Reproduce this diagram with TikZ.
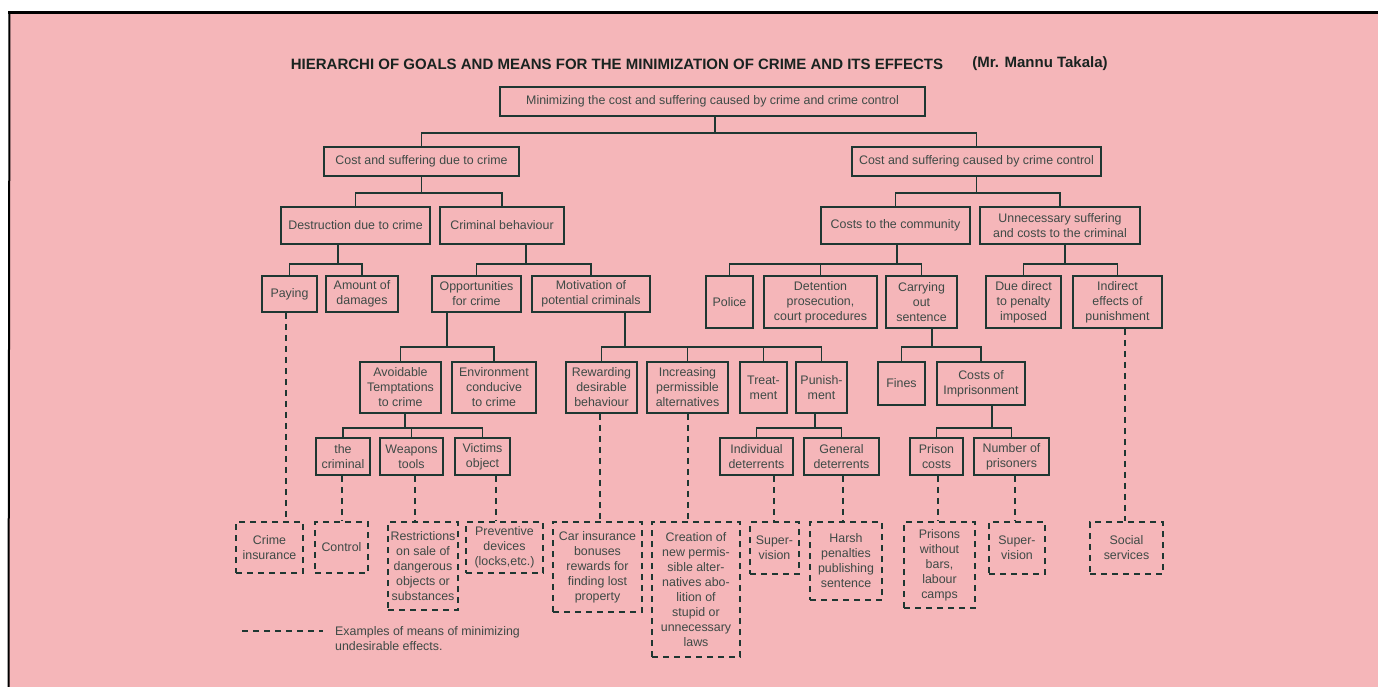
\documentclass[tikz,border=0pt]{standalone}
\usepackage{fontspec}
\setmainfont{Liberation Sans}
\usetikzlibrary{calc}
\definecolor{paper}{RGB}{245,182,185}
\definecolor{ink}{RGB}{30,55,50}
\definecolor{txt}{RGB}{62,74,70}
\definecolor{ttl}{RGB}{25,35,32}
\newcommand\mybox[7]{\node[#1, minimum width={(#5-#3)*1pt}, minimum height={(#6-#4)*1pt}] (#2) at ({(#3+#5)/2},{(#4+#6)/2}) {#7};}
\begin{document}
\begin{tikzpicture}[x=1pt,y=-1pt,
  box/.style={draw=ink, line width=1.7pt, inner sep=0pt, align=center, text=txt, font=\fontsize{12.4}{15}\selectfont},
  dbox/.style={box, dash pattern=on 6pt off 5pt},
  link/.style={draw=ink, line width=1.7pt},
  dlink/.style={link, dash pattern=on 6pt off 5pt},
  titlestyle/.style={inner sep=0pt, text=ttl, font=\fontsize{15}{17}\selectfont\bfseries},
  legendtext/.style={inner sep=0pt, align=left, text=txt, font=\fontsize{12.4}{15}\selectfont}
  ]
\useasboundingbox (0,0) rectangle (1378,687);
\fill[white] (0,0) rectangle (1378,687);
\fill[paper] (9,12) rectangle (1378,687);
\draw[black, line width=3pt] (8,12.5) -- (1378,12.5);
\draw[black, line width=2pt] (9.5,12) -- (8.5,687);

% title
\node[titlestyle] (title) at (617,64) {HIERARCHI OF GOALS AND MEANS FOR THE MINIMIZATION OF CRIME AND ITS EFFECTS};
\node[titlestyle] (author) at (1040,64) {(Mr. Mannu Takala)};

% solid boxes
\mybox{box}{root}{500}{87}{925}{116}{Minimizing the cost and suffering caused by crime and crime control}
\mybox{box}{A}{324}{147}{519}{176}{Cost and suffering due to crime}
\mybox{box}{B}{852}{147}{1101}{176}{Cost and suffering caused by crime control}
\mybox{box}{destr}{281}{207}{430}{244}{Destruction due to crime}
\mybox{box}{crimb}{440}{207}{564}{244}{Criminal behaviour}
\mybox{box}{costsc}{821}{207}{970}{244}{Costs to the community}
\mybox{box}{unnec}{980}{207}{1140}{244}{Unnecessary suffering\\and costs to the criminal}
\mybox{box}{paying}{262}{276}{317}{312}{Paying}
\mybox{box}{amount}{326}{276}{398}{312}{Amount of\\damages}
\mybox{box}{opp}{432}{276}{521}{312}{Opportunities\\for crime}
\mybox{box}{motiv}{532}{276}{650}{312}{Motivation of\\potential criminals}
\mybox{box}{police}{706}{276}{753}{328}{Police}
\mybox{box}{deten}{764}{276}{877}{328}{Detention\\prosecution,\\court procedures}
\mybox{box}{carry}{886}{276}{957}{328}{Carrying\\out\\sentence}
\mybox{box}{due}{986}{276}{1061}{328}{Due direct\\to penalty\\imposed}
\mybox{box}{indir}{1073}{276}{1162}{328}{Indirect\\effects of\\punishment}
\mybox{box}{avoid}{360}{362}{441}{413}{Avoidable\\Temptations\\to crime}
\mybox{box}{env}{452}{362}{536}{413}{Environment\\conducive\\to crime}
\mybox{box}{reward}{566}{362}{637}{413}{Rewarding\\desirable\\behaviour}
\mybox{box}{incr}{647}{362}{728}{413}{Increasing\\permissible\\alternatives}
\mybox{box}{treat}{740}{362}{787}{413}{Treat-\\ment}
\mybox{box}{punish}{796}{362}{847}{413}{Punish-\\ment}
\mybox{box}{fines}{878}{362}{925}{405}{Fines}
\mybox{box}{cimp}{937}{362}{1025}{405}{Costs of\\Imprisonment}
\mybox{box}{crim}{316}{438}{370}{475}{the\\criminal}
\mybox{box}{weap}{380}{438}{443}{475}{Weapons\\tools}
\mybox{box}{vict}{455}{438}{510}{475}{Victims\\object}
\mybox{box}{indiv}{720}{438}{793}{475}{Individual\\deterrents}
\mybox{box}{gener}{804}{438}{879}{475}{General\\deterrents}
\mybox{box}{pcost}{910}{438}{963}{475}{Prison\\costs}
\mybox{box}{npris}{974}{438}{1049}{475}{Number of\\prisoners}

% dashed boxes
\mybox{dbox}{cins}{236}{522}{303}{573}{Crime\\insurance}
\mybox{dbox}{ctrl}{315}{522}{368}{573}{Control}
\mybox{dbox}{restr}{388}{522}{458}{610}{Restrictions\\on sale of\\dangerous\\objects or\\substances}
\mybox{dbox}{prev}{466}{522}{543}{573}{Preventive\\devices\\(locks,etc.)}
\mybox{dbox}{carins}{553}{522}{642}{612}{Car insurance\\bonuses\\rewards for\\finding lost\\property}
\mybox{dbox}{creat}{652}{522}{740}{657}{Creation of\\new permis-\\sible alter-\\natives abo-\\lition of\\stupid or\\unnecessary\\laws}
\mybox{dbox}{supa}{750}{522}{799}{574}{Super-\\vision}
\mybox{dbox}{harsh}{810}{522}{882}{600}{Harsh\\penalties\\publishing\\sentence}
\mybox{dbox}{pwo}{904}{522}{975}{608}{Prisons\\without\\bars,\\labour\\camps}
\mybox{dbox}{supb}{989}{522}{1045}{574}{Super-\\vision}
\mybox{dbox}{social}{1090}{522}{1163}{574}{Social\\services}

% tree connectors
\foreach \c in {A,B} \draw[link] ([xshift=2.5pt]root.south) -- ++(0,16) -| (\c.north);
\foreach \c in {destr,crimb} \draw[link] (A.south) -- ++(0,16) -| (\c.north);
\foreach \c in {costsc,unnec} \draw[link] (B.south) -- ++(0,16) -| (\c.north);
\foreach \c in {paying,amount} \draw[link] ([xshift=-17.5pt]destr.south) -- ++(0,19) -| (\c.north);
\foreach \c in {opp,motiv} \draw[link] ([xshift=24pt]crimb.south) -- ++(0,19) -| (\c.north);
\foreach \c in {police,deten,carry} \draw[link] ([xshift=1.5pt]costsc.south) -- ++(0,19) -| (\c.north);
\foreach \c in {due,indir} \draw[link] ([xshift=5pt]unnec.south) -- ++(0,19) -| (\c.north);
\foreach \c in {avoid,env} \draw[link] ([xshift=-29.5pt]opp.south) -- ++(0,34) -| (\c.north);
\foreach \c in {reward,incr,treat,punish} \draw[link] ([xshift=34pt]motiv.south) -- ++(0,34) -| (\c.north);
\foreach \c in {fines,cimp} \draw[link] ([xshift=10.5pt]carry.south) -- ++(0,18) -| (\c.north);
\foreach \c in {crim,weap,vict} \draw[link] ([xshift=4.5pt]avoid.south) -- ++(0,14) -| (\c.north);
\foreach \c in {indiv,gener} \draw[link] ([xshift=-6.5pt]punish.south) -- ++(0,14) -| (\c.north);
\foreach \c in {pcost,npris} \draw[link] ([xshift=11pt]cimp.south) -- ++(0,22) -| (\c.north);

% dashed connectors
\foreach \p/\d/\s in {paying/cins/-3.5, crim/ctrl/-1, weap/restr/3.5, vict/prev/13.5, reward/carins/-1.5, incr/creat/0.5, indiv/supa/17.5, gener/harsh/1.5, pcost/pwo/1.5, npris/supb/3.5, indir/social/7.5}
  {\coordinate (s\p) at ([xshift=\s pt]\p.south);
   \draw[dlink] (s\p) -- (s\p |- \d.north);}

% legend
\coordinate (la) at (242,631);
\coordinate (lb) at (323,631);
\draw[dlink] (la) -- (lb);
\node[legendtext, anchor=north west] (legend) at (335,626) {Examples of means of minimizing\\undesirable effects.};
\end{tikzpicture}
\end{document}
